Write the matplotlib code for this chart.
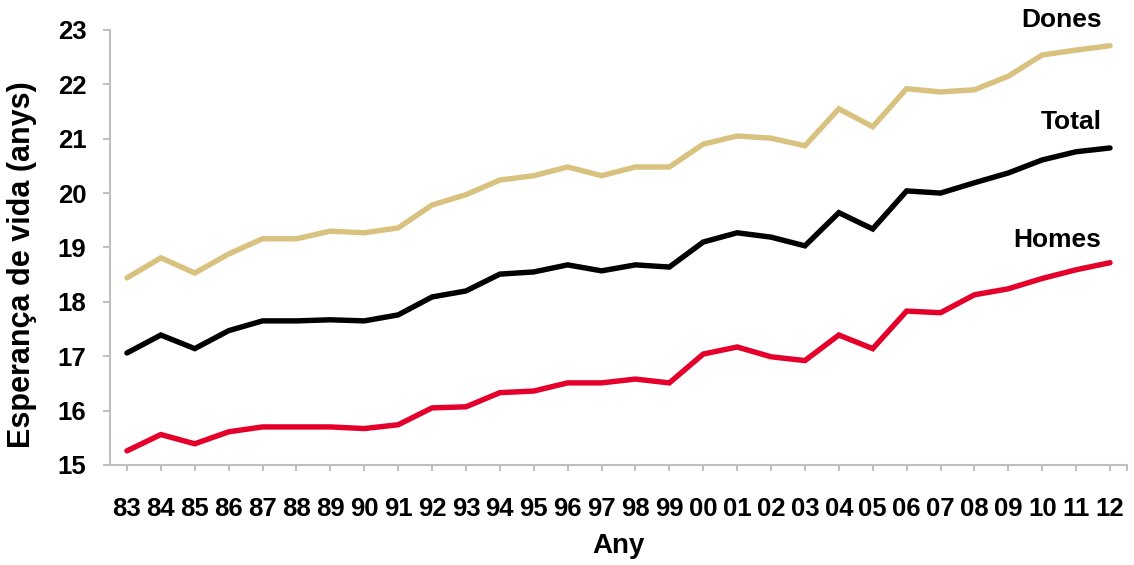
"""Esperança de vida als 65 anys, 1983-2012."""
import numpy as np
import matplotlib
matplotlib.use("Agg")
import matplotlib.pyplot as plt

years = ["83", "84", "85", "86", "87", "88", "89", "90", "91", "92", "93", "94", "95", "96", "97",
         "98", "99", "00", "01", "02", "03", "04", "05", "06", "07", "08", "09", "10", "11", "12"]

dones = [18.44, 18.81, 18.53, 18.88, 19.16, 19.16, 19.30, 19.27, 19.36, 19.78,
         19.97, 20.24, 20.32, 20.48, 20.32, 20.48, 20.48, 20.90, 21.05, 21.01,
         20.87, 21.55, 21.22, 21.92, 21.86, 21.90, 22.15, 22.54, 22.63, 22.71]
total = [17.06, 17.39, 17.14, 17.47, 17.65, 17.65, 17.67, 17.65, 17.76, 18.09,
         18.20, 18.51, 18.55, 18.68, 18.57, 18.68, 18.64, 19.10, 19.27, 19.19,
         19.03, 19.64, 19.34, 20.04, 20.00, 20.19, 20.37, 20.61, 20.76, 20.83]
homes = [15.26, 15.56, 15.39, 15.61, 15.70, 15.70, 15.70, 15.67, 15.74, 16.05,
         16.07, 16.33, 16.36, 16.51, 16.51, 16.58, 16.51, 17.04, 17.17, 16.99,
         16.92, 17.39, 17.14, 17.83, 17.80, 18.13, 18.24, 18.43, 18.59, 18.72]

series = [("Dones", dones, "#D9C27F", 23.18),
          ("Total", total, "#000000", 21.31),
          ("Homes", homes, "#E4002B", 19.14)]

plt.rcParams["font.family"] = ["Liberation Sans", "DejaVu Sans"]
plt.rcParams["font.weight"] = "bold"

fig = plt.figure(figsize=(11.34, 5.65), dpi=100)
ax = fig.add_axes([0.097, 0.177, 0.8968, 0.770])

x = np.arange(len(years))
for name, vals, color, ylab in series:
    ax.plot(x, vals, color=color, lw=3.9, solid_capstyle="round", solid_joinstyle="miter")
    ax.text(28.75, ylab, name, ha="right", va="center", fontsize=19, fontweight="bold")

ax.set_xlim(-0.5, 29.5)
ax.set_ylim(15, 23)
ax.set_xticks(x)
ax.set_xticklabels(years)
ax.set_xticks([29.5], minor=True)
ax.set_yticks(range(15, 24))

grey = "#BFBFBF"
for side in ["top", "right"]:
    ax.spines[side].set_visible(False)
for side in ["left", "bottom"]:
    ax.spines[side].set_color(grey)
    ax.spines[side].set_linewidth(1.5)

ax.tick_params(axis="x", which="both", length=4, width=1.5, color=grey, pad=19,
               labelsize=18.5, direction="out")
ax.tick_params(axis="y", length=5, width=1.5, color=grey, pad=12, labelsize=18.5)
for lab in ax.get_xticklabels() + ax.get_yticklabels():
    lab.set_fontweight("bold")

ax.set_xlabel("Any", fontsize=20, fontweight="bold", labelpad=9)
ax.set_ylabel("Esperança de vida (anys)", fontsize=22, fontweight="bold")
ax.yaxis.set_label_coords(-0.072, 0.46)

fig.savefig("out.png", dpi=100)
